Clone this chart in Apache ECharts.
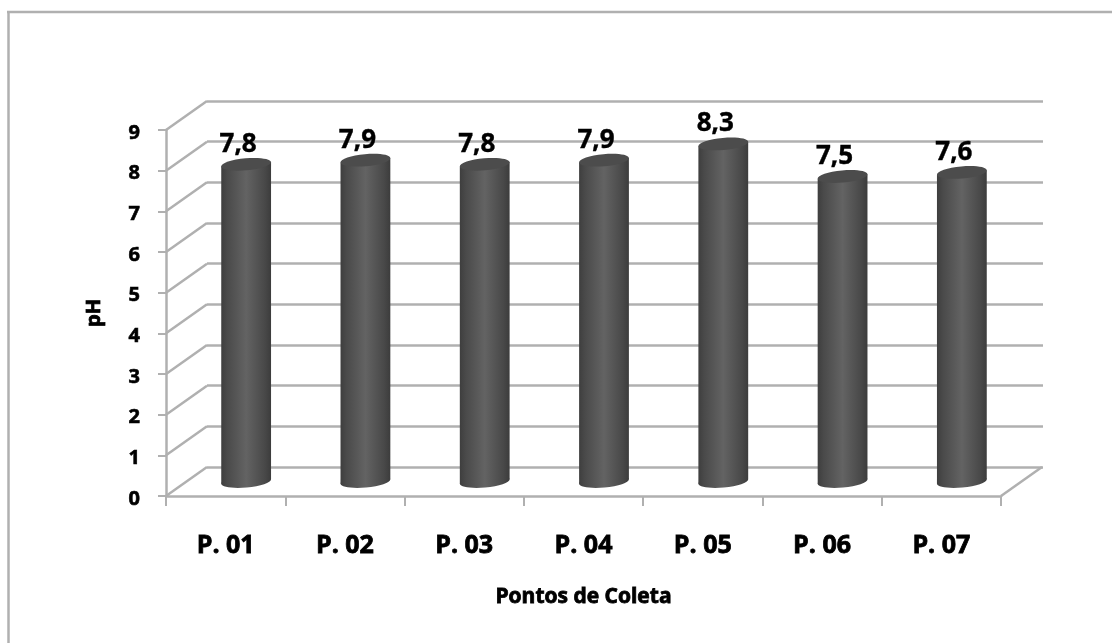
<!DOCTYPE html>
<html>
<head>
<meta charset="utf-8">
<style>html,body{margin:0;padding:0;background:#fff}#chart{width:1112px;height:643px}</style>
<script src="https://cdn.jsdelivr.net/npm/echarts@6/dist/echarts.min.js"></script>
</head>
<body>
<div id="chart"></div>
<script>
const categories = ['P. 01', 'P. 02', 'P. 03', 'P. 04', 'P. 05', 'P. 06', 'P. 07'];
const phValues = [7.8, 7.9, 7.8, 7.9, 8.3, 7.5, 7.6];
const yTicks = [0, 1, 2, 3, 4, 5, 6, 7, 8, 9];

// Oblique projection used for the pseudo-3D floor and walls
const DEPTH_X = 41, DEPTH_Y = -29;
const AXIS = '#b0b0b0';
const FONT = '"Open Sans", "Noto Sans", sans-serif';

const chart = echarts.init(document.getElementById('chart'), null, {renderer: 'canvas'});

function renderWall(params, api) {
  const p = api.coord([0, api.value(0)]);
  const x0 = params.coordSys.x;
  return {
    type: 'line',
    shape: {x1: x0, y1: p[1], x2: x0 + DEPTH_X, y2: p[1] + DEPTH_Y},
    style: {stroke: AXIS, lineWidth: 2.5}
  };
}

function renderFloorEdge(params, api) {
  const cs = params.coordSys;
  const y = api.coord([0, 0])[1];
  return {
    type: 'line',
    shape: {x1: cs.x + cs.width, y1: y, x2: cs.x + cs.width + DEPTH_X, y2: y + DEPTH_Y},
    style: {stroke: AXIS, lineWidth: 2.5}
  };
}

function renderCylinder(params, api) {
  const idx = api.value(0);
  const val = api.value(1);
  const top = api.coord([idx, val]);
  const base = api.coord([idx, 0]);
  const cx = top[0] + DEPTH_X / 2;
  const dy = DEPTH_Y / 2;
  const topY = top[1] + dy, baseY = base[1] + dy;
  const rx = 25, ry = 6, tilt = 0.09;
  // Ellipse extremes shift with the tilt, so the body follows them
  const ex = rx * Math.cos(tilt), ey = rx * Math.sin(tilt);
  const bodyFill = new echarts.graphic.LinearGradient(0, 0, 1, 0, [
    {offset: 0, color: '#3e3e3e'},
    {offset: 0.12, color: '#4a4a4a'},
    {offset: 0.5, color: '#636363'},
    {offset: 0.88, color: '#484848'},
    {offset: 1, color: '#3c3c3c'}
  ]);
  return {
    type: 'group',
    children: [
      {
        type: 'ellipse',
        shape: {cx: cx, cy: baseY, rx: rx, ry: ry},
        originX: cx, originY: baseY, rotation: tilt,
        style: {fill: bodyFill}
      },
      {
        type: 'polygon',
        shape: {points: [
          [cx - ex, topY + ey], [cx + ex, topY - ey],
          [cx + ex, baseY - ey], [cx - ex, baseY + ey]
        ]},
        style: {fill: bodyFill}
      },
      {
        type: 'ellipse',
        shape: {cx: cx, cy: topY, rx: rx, ry: ry},
        originX: cx, originY: topY, rotation: tilt,
        style: {fill: '#4c4c4c'}
      },
      {
        type: 'text',
        x: cx - 8, y: topY - 20,
        style: {
          text: val.toFixed(1).replace('.', ','),
          fill: '#000', font: 'bold 26px ' + FONT,
          stroke: '#000', lineWidth: 0.4,
          align: 'center', verticalAlign: 'middle'
        }
      }
    ]
  };
}

chart.setOption({
  animation: false,
  backgroundColor: '#fff',
  graphic: [
    {type: 'line', shape: {x1: 7, y1: 12, x2: 1112, y2: 12}, style: {stroke: AXIS, lineWidth: 2.5}, z: -1},
    {type: 'line', shape: {x1: 8.5, y1: 11, x2: 8.5, y2: 643}, style: {stroke: AXIS, lineWidth: 2.5}, z: -1}
  ],
  grid: [
    {left: 166, top: 130, width: 835, height: 366},
    {left: 207, top: 101, width: 836, height: 366}
  ],
  xAxis: [
    {
      type: 'category', gridIndex: 0, data: categories,
      name: 'Pontos de Coleta', nameLocation: 'middle', nameGap: 91,
      nameTextStyle: {color: '#000', fontWeight: 'bold', fontSize: 21, fontFamily: FONT,
        textBorderColor: '#000', textBorderWidth: 0.8},
      axisLine: {lineStyle: {color: AXIS, width: 2.5}},
      axisTick: {show: true, length: 10, lineStyle: {color: AXIS, width: 2}},
      axisLabel: {color: '#000', fontWeight: 'bold', fontSize: 25, fontFamily: FONT, margin: 37,
        textBorderColor: '#000', textBorderWidth: 0.8}
    },
    {type: 'category', gridIndex: 1, data: categories, show: false}
  ],
  yAxis: [
    {
      type: 'value', gridIndex: 0, min: 0, max: 9, interval: 1,
      name: 'pH', nameLocation: 'middle', nameGap: 62,
      nameTextStyle: {color: '#000', fontWeight: 'bold', fontSize: 20, fontFamily: FONT,
        textBorderColor: '#000', textBorderWidth: 0.8},
      axisLine: {show: true, lineStyle: {color: AXIS, width: 2.5}},
      axisTick: {show: true, length: 8, lineStyle: {color: AXIS, width: 2}},
      axisLabel: {color: '#000', fontWeight: 'bold', fontSize: 20, fontFamily: FONT, margin: 26,
        verticalAlign: 'top', lineHeight: 6, textBorderColor: '#000', textBorderWidth: 0.6},
      splitLine: {show: false}
    },
    {
      type: 'value', gridIndex: 1, min: 0, max: 9, interval: 1,
      axisLine: {show: false}, axisTick: {show: false}, axisLabel: {show: false},
      splitLine: {show: true, lineStyle: {color: AXIS, width: 2.5}}
    }
  ],
  series: [
    {
      type: 'custom', xAxisIndex: 0, yAxisIndex: 0, silent: true, z: 1,
      clip: false, renderItem: renderWall,
      encode: {y: 0}, data: yTicks.map(v => [v])
    },
    {
      type: 'custom', xAxisIndex: 0, yAxisIndex: 0, silent: true, z: 1,
      clip: false, renderItem: renderFloorEdge,
      data: [[0]]
    },
    {
      type: 'custom', xAxisIndex: 0, yAxisIndex: 0, z: 5,
      clip: false, renderItem: renderCylinder,
      encode: {x: 0, y: 1},
      data: phValues.map((v, i) => [i, v])
    }
  ]
});
</script>
</body>
</html>
